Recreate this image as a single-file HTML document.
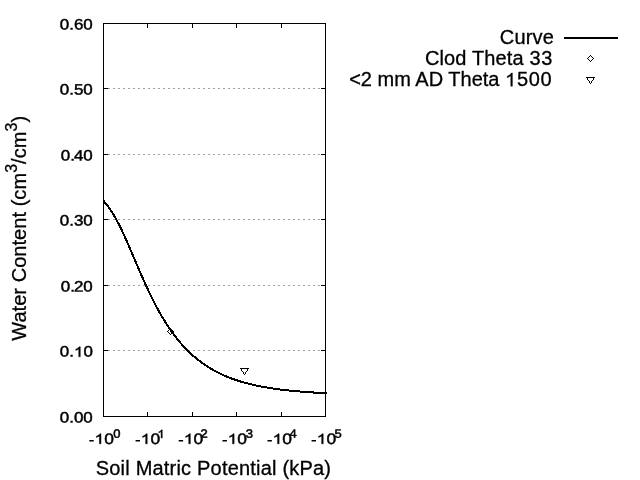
<!DOCTYPE html>
<html><head><meta charset="utf-8"><title>plot</title>
<style>
html,body{margin:0;padding:0;background:#fff;}
body{width:640px;height:480px;overflow:hidden;}
svg{display:block;will-change:transform;}
text{font-family:"Liberation Sans",sans-serif;fill:#000;stroke:#000;stroke-width:0.3px;}
.b{letter-spacing:0.2px;}
</style></head><body>
<svg width="640" height="480" viewBox="0 0 640 480">
<rect x="0" y="0" width="640" height="480" fill="#fff"/>
<g shape-rendering="crispEdges">
<line x1="108" y1="350.5" x2="320" y2="350.5" stroke="#a0a0a0" stroke-width="1" stroke-dasharray="2 3"/>
<line x1="108" y1="285.5" x2="320" y2="285.5" stroke="#a0a0a0" stroke-width="1" stroke-dasharray="2 3"/>
<line x1="108" y1="219.5" x2="320" y2="219.5" stroke="#a0a0a0" stroke-width="1" stroke-dasharray="2 3"/>
<line x1="108" y1="154.5" x2="320" y2="154.5" stroke="#a0a0a0" stroke-width="1" stroke-dasharray="2 3"/>
<line x1="108" y1="88.5" x2="320" y2="88.5" stroke="#a0a0a0" stroke-width="1" stroke-dasharray="2 3"/>
<rect x="103.5" y="23.5" width="222" height="393" fill="none" stroke="#000" stroke-width="1"/>
<rect x="104" y="350" width="4" height="1" fill="#000"/>
<rect x="321" y="350" width="4" height="1" fill="#000"/>
<rect x="104" y="285" width="4" height="1" fill="#000"/>
<rect x="321" y="285" width="4" height="1" fill="#000"/>
<rect x="104" y="219" width="4" height="1" fill="#000"/>
<rect x="321" y="219" width="4" height="1" fill="#000"/>
<rect x="104" y="154" width="4" height="1" fill="#000"/>
<rect x="321" y="154" width="4" height="1" fill="#000"/>
<rect x="104" y="88" width="4" height="1" fill="#000"/>
<rect x="321" y="88" width="4" height="1" fill="#000"/>
<rect x="147" y="24" width="1" height="4" fill="#000"/>
<rect x="147" y="412" width="1" height="4" fill="#000"/>
<rect x="192" y="24" width="1" height="4" fill="#000"/>
<rect x="192" y="412" width="1" height="4" fill="#000"/>
<rect x="236" y="24" width="1" height="4" fill="#000"/>
<rect x="236" y="412" width="1" height="4" fill="#000"/>
<rect x="281" y="24" width="1" height="4" fill="#000"/>
<rect x="281" y="412" width="1" height="4" fill="#000"/>
<polyline points="103.50,200.83 105.74,203.42 107.98,206.29 110.23,209.46 112.47,212.92 114.71,216.68 116.95,220.72 119.20,225.02 121.44,229.57 123.68,234.34 125.92,239.29 128.17,244.38 130.41,249.54 132.65,254.76 134.89,260.02 137.14,265.27 139.38,270.48 141.62,275.64 143.86,280.70 146.11,285.65 148.35,290.48 150.59,295.17 152.83,299.71 155.08,304.10 157.32,308.33 159.56,312.40 161.80,316.30 164.05,320.04 166.29,323.63 168.53,327.06 170.77,330.33 173.02,333.46 175.26,336.45 177.50,339.29 179.74,342.01 181.98,344.60 184.23,347.06 186.47,349.41 188.71,351.64 190.95,353.77 193.20,355.79 195.44,357.72 197.68,359.55 199.92,361.29 202.17,362.95 204.41,364.53 206.65,366.03 208.89,367.45 211.14,368.81 213.38,370.10 215.62,371.32 217.86,372.49 220.11,373.60 222.35,374.65 224.59,375.66 226.83,376.61 229.08,377.52 231.32,378.38 233.56,379.20 235.80,379.98 238.05,380.72 240.29,381.42 242.53,382.09 244.77,382.73 247.02,383.33 249.26,383.91 251.50,384.45 253.74,384.97 255.98,385.47 258.23,385.94 260.47,386.38 262.71,386.81 264.95,387.21 267.20,387.60 269.44,387.96 271.68,388.31 273.92,388.64 276.17,388.95 278.41,389.25 280.65,389.54 282.89,389.81 285.14,390.08 287.38,390.33 289.62,390.57 291.86,390.80 294.11,391.01 296.35,391.22 298.59,391.42 300.83,391.60 303.08,391.78 305.32,391.95 307.56,392.11 309.80,392.27 312.05,392.42 314.29,392.56 316.53,392.69 318.77,392.82 321.02,392.94 323.26,393.06 325.50,393.17 327.2,393.15" fill="none" stroke="#000" stroke-width="2" stroke-linejoin="round"/>
<rect x="564" y="37" width="54" height="2" fill="#000"/>
<g fill="#000"><rect x="587" y="58" width="1" height="1"/><rect x="588" y="57" width="1" height="1"/><rect x="589" y="56" width="1" height="1"/><rect x="590" y="55" width="1" height="1"/><rect x="591" y="56" width="1" height="1"/><rect x="592" y="57" width="1" height="1"/><rect x="593" y="58" width="1" height="1"/><rect x="592" y="59" width="1" height="1"/><rect x="591" y="60" width="1" height="1"/><rect x="590" y="61" width="1" height="1"/><rect x="589" y="60" width="1" height="1"/><rect x="588" y="59" width="1" height="1"/><rect x="167" y="331" width="1" height="1"/><rect x="168" y="330" width="1" height="1"/><rect x="169" y="329" width="1" height="1"/><rect x="170" y="328" width="1" height="1"/><rect x="171" y="329" width="1" height="1"/><rect x="172" y="330" width="1" height="1"/><rect x="173" y="331" width="1" height="1"/><rect x="172" y="332" width="1" height="1"/><rect x="171" y="333" width="1" height="1"/><rect x="170" y="334" width="1" height="1"/><rect x="169" y="333" width="1" height="1"/><rect x="168" y="332" width="1" height="1"/><rect x="586" y="77" width="9" height="1"/><rect x="587" y="78" width="1" height="1"/><rect x="593" y="78" width="1" height="1"/><rect x="587" y="79" width="1" height="1"/><rect x="593" y="79" width="1" height="1"/><rect x="588" y="80" width="1" height="1"/><rect x="592" y="80" width="1" height="1"/><rect x="589" y="81" width="1" height="1"/><rect x="591" y="81" width="1" height="1"/><rect x="589" y="82" width="1" height="1"/><rect x="591" y="82" width="1" height="1"/><rect x="590" y="83" width="1" height="1"/><rect x="240" y="368" width="9" height="1"/><rect x="241" y="369" width="1" height="1"/><rect x="247" y="369" width="1" height="1"/><rect x="241" y="370" width="1" height="1"/><rect x="247" y="370" width="1" height="1"/><rect x="242" y="371" width="1" height="1"/><rect x="246" y="371" width="1" height="1"/><rect x="243" y="372" width="1" height="1"/><rect x="245" y="372" width="1" height="1"/><rect x="243" y="373" width="1" height="1"/><rect x="245" y="373" width="1" height="1"/><rect x="244" y="374" width="1" height="1"/></g>
</g>
<g transform="translate(92.80,422.60) scale(1.06,0.94) rotate(0.03)"><text x="-31.14" y="0" font-size="16" style="letter-spacing:0.0px;stroke-width:0.5px">0.00</text></g>
<g transform="translate(92.80,356.60) scale(1.06,0.94) rotate(0.03)"><text x="-31.14" y="0" font-size="16" style="letter-spacing:0.0px;stroke-width:0.5px">0.</text><path transform="translate(-17.80,0.24) scale(0.007812,-0.007305)" d="M763 0H583V1147Q518 1085 412.5 1023T223 930V1104Q373 1174.5 485.5 1275T644 1470H763Z" fill="#000" stroke="#000" stroke-width="64.0"/><text x="-8.90" y="0" font-size="16" style="letter-spacing:0.0px;stroke-width:0.5px">0</text></g>
<g transform="translate(92.80,291.60) scale(1.06,0.94) rotate(0.03)"><text x="-17.80" y="0" font-size="16" style="letter-spacing:0.0px;stroke-width:0.5px">20</text></g>
<g transform="translate(74.94,291.60) scale(1.06,0.94) rotate(0.03)"><text x="-13.34" y="0" font-size="16" style="letter-spacing:0.0px;stroke-width:0.5px">0.</text></g>
<g transform="translate(92.80,225.60) scale(1.06,0.94) rotate(0.03)"><text x="-31.14" y="0" font-size="16" style="letter-spacing:0.0px;stroke-width:0.5px">0.30</text></g>
<g transform="translate(92.80,160.60) scale(1.06,0.94) rotate(0.03)"><text x="-17.80" y="0" font-size="16" style="letter-spacing:0.0px;stroke-width:0.5px">40</text></g>
<g transform="translate(74.94,160.60) scale(1.06,0.94) rotate(0.03)"><text x="-13.34" y="0" font-size="16" style="letter-spacing:0.0px;stroke-width:0.5px">0.</text></g>
<g transform="translate(92.80,94.60) scale(1.06,0.94) rotate(0.03)"><text x="-31.14" y="0" font-size="16" style="letter-spacing:0.0px;stroke-width:0.5px">0.50</text></g>
<g transform="translate(92.80,29.60) scale(1.06,0.94) rotate(0.03)"><text x="-31.14" y="0" font-size="16" style="letter-spacing:0.0px;stroke-width:0.5px">0.60</text></g>
<g transform="translate(88.65,443.60) scale(1.09,0.94) rotate(0.03)"><rect x="0.62" y="-3.71" width="4.06" height="1.41" fill="#000"/><path transform="translate(5.33,0.24) scale(0.007812,-0.007305)" d="M763 0H583V1147Q518 1085 412.5 1023T223 930V1104Q373 1174.5 485.5 1275T644 1470H763Z" fill="#000" stroke="#000" stroke-width="64.0"/><text x="14.23" y="0" font-size="16" style="letter-spacing:0.0px;stroke-width:0.5px">0</text></g>
<g transform="translate(113.15,437.80) scale(1.05,0.98) rotate(0.03)"><text x="0.00" y="0" font-size="12.4" style="letter-spacing:0.0px;stroke-width:0.5px">0</text></g>
<g transform="translate(134.90,443.60) scale(1.09,0.94) rotate(0.03)"><rect x="0.62" y="-3.71" width="4.06" height="1.41" fill="#000"/><path transform="translate(5.33,0.24) scale(0.007812,-0.007305)" d="M763 0H583V1147Q518 1085 412.5 1023T223 930V1104Q373 1174.5 485.5 1275T644 1470H763Z" fill="#000" stroke="#000" stroke-width="64.0"/><text x="14.23" y="0" font-size="16" style="letter-spacing:0.0px;stroke-width:0.5px">0</text></g>
<g transform="translate(157.40,437.80) scale(1.05,0.98) rotate(0.03)"><path transform="translate(0.00,0.19) scale(0.006055,-0.005661)" d="M763 0H583V1147Q518 1085 412.5 1023T223 930V1104Q373 1174.5 485.5 1275T644 1470H763Z" fill="#000" stroke="#000" stroke-width="82.6"/></g>
<g transform="translate(178.00,443.60) scale(1.09,0.94) rotate(0.03)"><rect x="0.62" y="-3.71" width="4.06" height="1.41" fill="#000"/><path transform="translate(5.33,0.24) scale(0.007812,-0.007305)" d="M763 0H583V1147Q518 1085 412.5 1023T223 930V1104Q373 1174.5 485.5 1275T644 1470H763Z" fill="#000" stroke="#000" stroke-width="64.0"/><text x="14.23" y="0" font-size="16" style="letter-spacing:0.0px;stroke-width:0.5px">0</text></g>
<g transform="translate(200.40,437.80) scale(1.05,0.98) rotate(0.03)"><text x="0.00" y="0" font-size="12.4" style="letter-spacing:0.0px;stroke-width:0.5px">2</text></g>
<g transform="translate(221.80,443.60) scale(1.09,0.94) rotate(0.03)"><rect x="0.62" y="-3.71" width="4.06" height="1.41" fill="#000"/><path transform="translate(5.33,0.24) scale(0.007812,-0.007305)" d="M763 0H583V1147Q518 1085 412.5 1023T223 930V1104Q373 1174.5 485.5 1275T644 1470H763Z" fill="#000" stroke="#000" stroke-width="64.0"/><text x="14.23" y="0" font-size="16" style="letter-spacing:0.0px;stroke-width:0.5px">0</text></g>
<g transform="translate(245.65,437.80) scale(1.05,0.98) rotate(0.03)"><text x="0.00" y="0" font-size="12.4" style="letter-spacing:0.0px;stroke-width:0.5px">3</text></g>
<g transform="translate(266.80,443.60) scale(1.09,0.94) rotate(0.03)"><rect x="0.62" y="-3.71" width="4.06" height="1.41" fill="#000"/><path transform="translate(5.33,0.24) scale(0.007812,-0.007305)" d="M763 0H583V1147Q518 1085 412.5 1023T223 930V1104Q373 1174.5 485.5 1275T644 1470H763Z" fill="#000" stroke="#000" stroke-width="64.0"/><text x="14.23" y="0" font-size="16" style="letter-spacing:0.0px;stroke-width:0.5px">0</text></g>
<g transform="translate(289.40,437.80) scale(1.05,0.98) rotate(0.03)"><text x="0.00" y="0" font-size="12.4" style="letter-spacing:0.0px;stroke-width:0.5px">4</text></g>
<g transform="translate(310.90,443.60) scale(1.09,0.94) rotate(0.03)"><rect x="0.62" y="-3.71" width="4.06" height="1.41" fill="#000"/><path transform="translate(5.33,0.24) scale(0.007812,-0.007305)" d="M763 0H583V1147Q518 1085 412.5 1023T223 930V1104Q373 1174.5 485.5 1275T644 1470H763Z" fill="#000" stroke="#000" stroke-width="64.0"/><text x="14.23" y="0" font-size="16" style="letter-spacing:0.0px;stroke-width:0.5px">0</text></g>
<g transform="translate(334.40,437.80) scale(1.05,0.98) rotate(0.03)"><text x="0.00" y="0" font-size="12.4" style="letter-spacing:0.0px;stroke-width:0.5px">5</text></g>
<text x="213.5" y="474.9" font-size="20" class="b" text-anchor="middle">Soil Matric Potential (kPa)</text>
<text transform="translate(25.8,340.8) rotate(-90)" font-size="20" style="letter-spacing:0.05px">Water Content (cm<tspan font-size="16" dy="-9.2">3</tspan><tspan dy="9.2">/cm</tspan><tspan font-size="16" dy="-9.2">3</tspan><tspan dy="9.2">)</tspan></text>
<text x="554.1" y="44" font-size="20" class="b" text-anchor="end">Curve</text>
<text x="553.2" y="65" font-size="20" text-anchor="end" style="letter-spacing:0.13px">Clod Theta <tspan style="letter-spacing:0.75px">33</tspan></text>
<text x="552.50" y="86" font-size="20" style="letter-spacing:0.75px" text-anchor="end">500</text>
<path transform="translate(505.01,86.3) scale(0.009766,-0.009131)" d="M763 0H583V1147Q518 1085 412.5 1023T223 930V1104Q373 1174.5 485.5 1275T644 1470H763Z" fill="#000" stroke="#000" stroke-width="30.7"/>
<text x="505.01" y="86" font-size="20" style="letter-spacing:0.0px" text-anchor="end" xml:space="preserve">&lt;2 mm AD Theta </text>
</svg></body></html>
